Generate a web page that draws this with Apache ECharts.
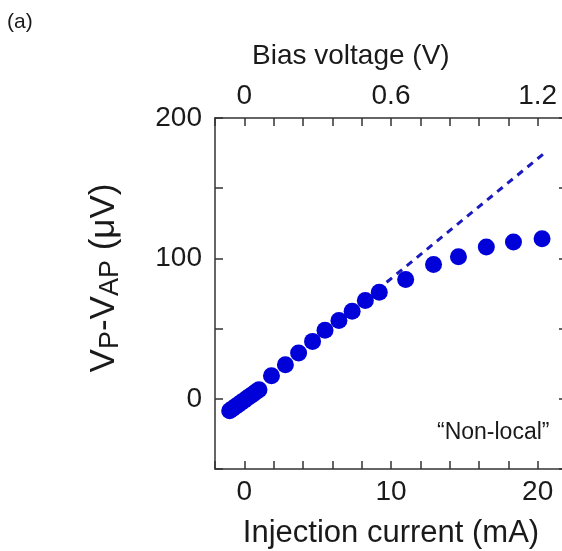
<!DOCTYPE html>
<html>
<head>
<meta charset="utf-8"/>
<title>Non-local signal vs injection current</title>
<script src="https://cdn.jsdelivr.net/npm/echarts@6/dist/echarts.min.js"></script>
<style>
  html, body { margin: 0; padding: 0; background: #fff; }
  #chart { width: 562px; height: 551px; }
</style>
</head>
<body>
<div id="chart"></div>
<script type="text/javascript">
// injection current (mA) and V_P - V_AP (uV)
var currentMA = [-1.0, -0.8, -0.6, -0.4, -0.2, 0, 0.2, 0.4, 0.6, 0.8, 1.0,
                 1.85, 2.8, 3.7, 4.65, 5.5, 6.45, 7.35, 8.25, 9.2,
                 11.0, 12.9, 14.6, 16.5, 18.35, 20.3];
var deltaV = [-8.5, -7, -5.5, -4, -2.5, -1, 0.5, 2, 3.5, 5, 6.5,
              16.4, 24.3, 32.6, 40.9, 48.8, 55.7, 62.4, 70, 75.9,
              85, 95.7, 101.2, 108.1, 111.7, 114];

// dashed linear guide
var fitCurrent = [9.7, 20.4];
var fitV = [83, 174.5];

var bottomLabels = [0, 10, 20];
var topLabels = [0, 0.6, 1.2];
var leftLabels = [0, 100, 200];

var ink = '#1a1a1a';
var axisCol = '#333';
var blue = '#0000d8';
var font = 'Liberation Sans, Arial, sans-serif';

function pairs(xs, ys) {
  var out = [];
  for (var i = 0; i < xs.length; i++) out.push([xs[i], ys[i]]);
  return out;
}
function inList(list, v) {
  for (var i = 0; i < list.length; i++) {
    if (Math.abs(list[i] - v) < 1e-6) return true;
  }
  return false;
}

var line = { onZero: false, lineStyle: { color: axisCol, width: 1.5 } };
var tick = { inside: true, length: 8, lineStyle: { color: axisCol, width: 1.5 } };

var chart = echarts.init(document.getElementById('chart'));
var option = {
  animation: false,
  // the right frame edge sits just past the canvas, as in the figure
  grid: { left: 215, top: 118, width: 352, height: 351, containLabel: false, outerBoundsMode: 'none' },
  xAxis: [
    {
      type: 'value', position: 'bottom', min: -2, max: 22, interval: 2,
      axisLine: line, axisTick: tick, splitLine: { show: false },
      axisLabel: {
        color: ink, fontSize: 28, fontFamily: font, margin: 9,
        formatter: function (v) { return inList(bottomLabels, v) ? String(v) : ''; }
      },
      name: 'Injection current (mA)', nameLocation: 'middle', nameGap: 49,
      nameTextStyle: { color: ink, fontSize: 31, fontFamily: font }
    },
    {
      type: 'value', position: 'top', min: -0.12, max: 1.32, interval: 0.12,
      axisLine: line, axisTick: tick, splitLine: { show: false },
      axisLabel: {
        color: ink, fontSize: 28, fontFamily: font, margin: 8,
        formatter: function (v) { return inList(topLabels, v) ? String(+v.toFixed(2)) : ''; }
      }
    }
  ],
  yAxis: [
    {
      type: 'value', position: 'left', min: -50, max: 200, interval: 50,
      axisLine: line, axisTick: tick, splitLine: { show: false },
      axisLabel: {
        color: ink, fontSize: 28, fontFamily: font, margin: 13,
        formatter: function (v) { return inList(leftLabels, v) ? String(v) : ''; }
      }
    },
    {
      type: 'value', position: 'right', min: -50, max: 200, interval: 50,
      axisLine: line, axisTick: tick, splitLine: { show: false },
      axisLabel: { show: false }
    }
  ],
  graphic: [
    { type: 'text', left: 7, top: 12, style: { text: '(a)', fill: ink, font: '21px ' + font } },
    { type: 'text', left: 252, top: 42, style: { text: 'Bias voltage (V)', fill: ink, font: '28px ' + font } },
    { type: 'text', left: 437, top: 421, style: { text: '\u201cNon-local\u201d', fill: ink, font: '23px ' + font } },
    {
      type: 'text', x: 104, y: 278, rotation: Math.PI / 2,
      style: {
        x: 0, y: 0, align: 'center', verticalAlign: 'middle',
        text: '{v|V}{s|P}{v|-V}{s|AP}{v| (\u03bcV)}',
        rich: {
          v: { fill: ink, fontSize: 35, fontFamily: font },
          s: { fill: ink, fontSize: 27, fontFamily: font, padding: [14, 0, 0, 0] }
        }
      }
    }
  ],
  series: [
    {
      type: 'line', xAxisIndex: 0, yAxisIndex: 0,
      data: pairs(fitCurrent, fitV), showSymbol: false,
      lineStyle: { color: '#1a1ac0', width: 3, type: [7, 6] }
    },
    {
      type: 'scatter', xAxisIndex: 0, yAxisIndex: 0,
      data: pairs(currentMA, deltaV), symbolSize: 17,
      itemStyle: { color: blue, opacity: 1 }
    }
  ]
};
chart.setOption(option);
</script>
</body>
</html>
